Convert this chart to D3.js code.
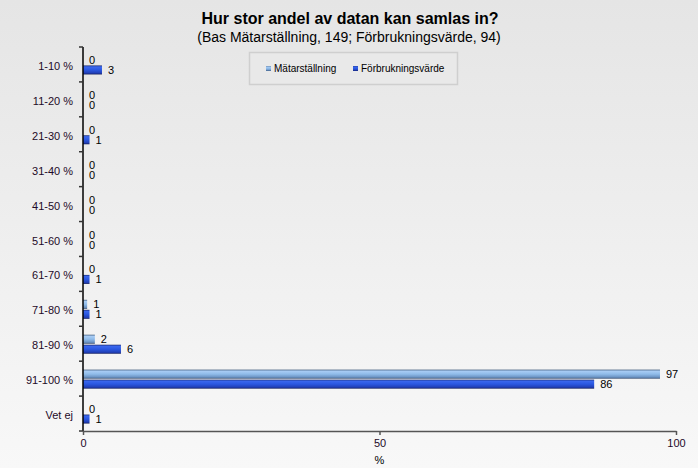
<!DOCTYPE html>
<html>
<head>
<meta charset="utf-8">
<script src="https://cdn.jsdelivr.net/npm/d3@7"></script>
<style>
  body { margin: 0; padding: 0; background: #f0f0f0; }
  text { font-family: "Liberation Sans", Arial, sans-serif; }
</style>
</head>
<body>
<div class="chart"></div>
<script>
// chart data (percent of answers)
var categories = ["1-10 %", "11-20 %", "21-30 %", "31-40 %", "41-50 %", "51-60 %",
  "61-70 %", "71-80 %", "81-90 %", "91-100 %", "Vet ej"];
var seriesNames = ["Mätarställning", "Förbrukningsvärde"];
var matarstallning = [0, 0, 0, 0, 0, 0, 0, 0.7, 2.0, 97.3, 0];
var forbrukningsvarde = [3.2, 0, 1.1, 0, 0, 0, 1.1, 1.1, 6.4, 86.2, 1.1];
var xTicks = [0, 50, 100];

var svgWidth = 698;
var svgHeight = 468;

var margin = { top: 47, right: 22, bottom: 37, left: 83 };
var width = svgWidth - margin.left - margin.right;
var height = svgHeight - margin.top - margin.bottom;

var svg = d3.select(".chart")
  .append("svg")
  .attr("width", svgWidth)
  .attr("height", svgHeight);

var defs = svg.append("defs");

// background gradient
var bg = defs.append("linearGradient")
  .attr("id", "bg")
  .attr("x1", 0).attr("y1", 0).attr("x2", 0).attr("y2", 1);
bg.append("stop").attr("offset", "0%").attr("stop-color", "#e5e5e5");
bg.append("stop").attr("offset", "100%").attr("stop-color", "#f8f8f8");

// bar gradients
function barGradient(id, stops) {
  var g = defs.append("linearGradient")
    .attr("id", id)
    .attr("x1", 0).attr("y1", 0).attr("x2", 0).attr("y2", 1);
  stops.forEach(function(s) {
    g.append("stop").attr("offset", s[0]).attr("stop-color", s[1]);
  });
}
barGradient("light", [["0%", "#3a5577"], ["15%", "#a9cdf5"], ["50%", "#8fbbe9"], ["85%", "#6a92c2"], ["100%", "#2d4468"]]);
barGradient("dark", [["0%", "#17266e"], ["15%", "#3b68ee"], ["50%", "#2a57e0"], ["85%", "#213fb6"], ["100%", "#0f1a5a"]]);

svg.append("rect")
  .attr("width", svgWidth)
  .attr("height", svgHeight)
  .attr("fill", "url(#bg)");

// titles
svg.append("text")
  .attr("x", 350)
  .attr("y", 24)
  .attr("text-anchor", "middle")
  .attr("font-size", "16px")
  .attr("font-weight", "bold")
  .attr("fill", "#000")
  .text("Hur stor andel av datan kan samlas in?");

svg.append("text")
  .attr("x", 349)
  .attr("y", 42)
  .attr("text-anchor", "middle")
  .attr("font-size", "14px")
  .attr("fill", "#000")
  .text("(Bas Mätarställning, 149; Förbrukningsvärde, 94)");

var chartGroup = svg.append("g")
  .attr("transform", `translate(${margin.left}, ${margin.top})`);

// scales
var xScale = d3.scaleLinear()
  .domain([0, 100])
  .range([0, 593]);

var yScale = d3.scaleBand()
  .domain(categories)
  .range([0, height]);

var barH = 9;

var rows = categories.map(function(c, i) {
  return { cat: c, vals: [matarstallning[i], forbrukningsvarde[i]] };
});

// bars
rows.forEach(function(row) {
  var cy = yScale(row.cat) + yScale.bandwidth() / 2 + 0.5;
  row.vals.forEach(function(v, j) {
    var y0 = j === 0 ? cy - barH - 0.5 : cy + 0.5;
    if (v > 0) {
      chartGroup.append("rect")
        .attr("x", xScale(0))
        .attr("y", y0)
        .attr("width", xScale(v) - xScale(0))
        .attr("height", barH)
        .attr("fill", j === 0 ? "url(#light)" : "url(#dark)");
    }
    chartGroup.append("text")
      .attr("x", xScale(v) + 6)
      .attr("y", y0 + barH / 2 + 4)
      .attr("font-size", "11px")
      .attr("fill", "#000")
      .text(Math.round(v));
  });
});

// y axis
var yAxis = d3.axisLeft(yScale).tickSize(0).tickPadding(10);
var yAxisG = chartGroup.append("g").call(yAxis);
yAxisG.select(".domain").remove();
yAxisG.selectAll("text")
  .attr("dy", "0.5em")
  .attr("font-size", "11px")
  .attr("fill", "#1e0a28");

chartGroup.append("line")
  .attr("x1", 0).attr("x2", 0)
  .attr("y1", 0).attr("y2", height)
  .attr("stroke", "#000")
  .attr("stroke-width", 1.5);

// category separator ticks
var edges = categories.map(function(c) { return yScale(c); }).concat([height]);
chartGroup.selectAll(".ytick")
  .data(edges)
  .enter()
  .append("line")
  .attr("x1", -4).attr("x2", 0)
  .attr("y1", d => d).attr("y2", d => d)
  .attr("stroke", "#333")
  .attr("stroke-width", 1.5);

// x axis
var xAxis = d3.axisBottom(xScale).tickValues(xTicks).tickSize(4).tickSizeOuter(0).tickPadding(4);
var xAxisG = chartGroup.append("g")
  .attr("transform", `translate(0, ${height})`)
  .call(xAxis);
xAxisG.select(".domain").attr("stroke", "#555").attr("stroke-width", 1.5);
xAxisG.selectAll(".tick line").attr("stroke", "#555").attr("stroke-width", 1.5);
xAxisG.selectAll("text")
  .attr("font-size", "11px")
  .attr("fill", "#1e0a28");

chartGroup.append("text")
  .attr("x", xScale(50))
  .attr("y", height + 33)
  .attr("text-anchor", "middle")
  .attr("font-size", "11px")
  .attr("fill", "#000")
  .text("%");

// legend
var legend = svg.append("g");
legend.append("rect")
  .attr("x", 249.5)
  .attr("y", 52.5)
  .attr("width", 208)
  .attr("height", 32)
  .attr("fill", "#e9e9e9")
  .attr("stroke", "#cfcfcf")
  .attr("stroke-width", 1.5);

var legendX = [266, 353];
seriesNames.forEach(function(name, i) {
  legend.append("rect")
    .attr("x", legendX[i])
    .attr("y", 66)
    .attr("width", 5)
    .attr("height", 5)
    .attr("fill", i === 0 ? "url(#light)" : "url(#dark)");
  legend.append("text")
    .attr("x", legendX[i] + 8)
    .attr("y", 72)
    .attr("font-size", "10px")
    .attr("fill", "#000")
    .text(name);
});
</script>
</body>
</html>
